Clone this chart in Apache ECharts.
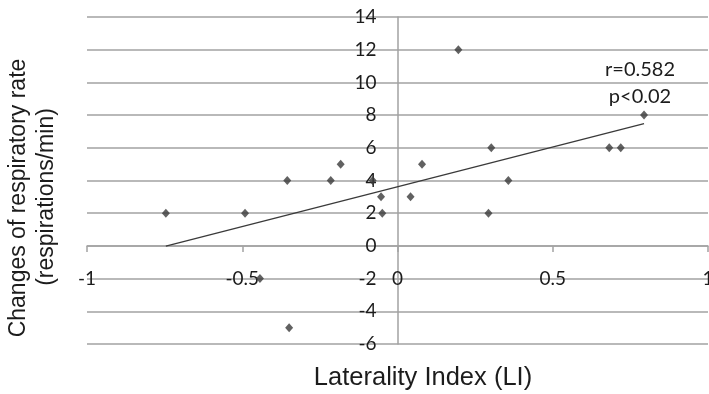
<!DOCTYPE html>
<html>
<head>
<meta charset="utf-8">
<script src="https://cdn.jsdelivr.net/npm/echarts@6/dist/echarts.min.js"></script>
<style>
  html, body { margin: 0; padding: 0; background: #fff; }
  #chart { width: 709px; height: 394px; }
</style>
</head>
<body>
<div id="chart"></div>
<script>
// Laterality index of each subject and the change in respiratory rate
const lateralityIndex = [-0.355, -0.215, -0.183, -0.080, -0.053, 0.196, 0.794, 0.302, 0.682, 0.719,
                          0.079, 0.357, 0.042, -0.746, -0.491, -0.049, -0.443, -0.349, 0.293];
const respChange = [4, 4, 5, 4, 3, 12, 8, 6, 6, 6,
                    5, 4, 3, 2, 2, 2, -2, -5, 2];

const xTicks = { min: -1, max: 1, step: 0.5 };
const yTicks = { min: -6, max: 14, step: 2 };

const statLines = ['r=0.582', 'p<0.02'];

// Least-squares trend line across the observed range of LI
function linearFit(xs, ys) {
  const n = xs.length;
  const mx = xs.reduce((a, b) => a + b, 0) / n;
  const my = ys.reduce((a, b) => a + b, 0) / n;
  let sxy = 0, sxx = 0;
  for (let i = 0; i < n; i++) {
    sxy += (xs[i] - mx) * (ys[i] - my);
    sxx += (xs[i] - mx) * (xs[i] - mx);
  }
  const slope = sxy / sxx;
  return { slope, intercept: my - slope * mx };
}
const fit = linearFit(lateralityIndex, respChange);
const xLo = Math.min(...lateralityIndex);
const xHi = Math.max(...lateralityIndex);
const trend = [[xLo, fit.intercept + fit.slope * xLo], [xHi, fit.intercept + fit.slope * xHi]];

const points = lateralityIndex.map((x, i) => [x, respChange[i]]);

const tickFont = 'Lato, "Open Sans", sans-serif';
const titleFont = '"Liberation Sans", Arial, sans-serif';
const gridGray = '#a2a2a2';
const markColor = '#3a3a3a';
const textColor = '#1c1c1c';

// Plot box in pixels; the axes cross at (0, 0) inside it
const box = { left: 87, right: 1, top: 17, bottom: 50 };
const plotW = 709 - box.left - box.right;
const plotH = 394 - box.top - box.bottom;
const xZeroShift = plotW * (0 - xTicks.min) / (xTicks.max - xTicks.min);
const yZeroShift = plotH * (0 - yTicks.min) / (yTicks.max - yTicks.min);

const chart = echarts.init(document.getElementById('chart'), null, { renderer: 'canvas' });
chart.setOption({
  animation: false,
  backgroundColor: '#ffffff',
  grid: { left: box.left, right: box.right, top: box.top, bottom: box.bottom,
          containLabel: false, outerBoundsMode: 'none' },
  xAxis: {
    type: 'value',
    position: 'bottom',
    offset: -yZeroShift,
    min: xTicks.min, max: xTicks.max, interval: xTicks.step,
    axisLine: { onZero: false, lineStyle: { color: gridGray, width: 1.5 } },
    axisTick: { show: true, length: 6, lineStyle: { color: gridGray, width: 1.5 } },
    splitLine: { show: false },
    axisLabel: {
      margin: 23, fontSize: 19, color: textColor, fontFamily: tickFont,
      showMinLabel: true, showMaxLabel: true,
      formatter: v => String(v)
    }
  },
  yAxis: {
    type: 'value',
    position: 'left',
    offset: -xZeroShift,
    min: yTicks.min, max: yTicks.max, interval: yTicks.step,
    axisLine: { show: true, onZero: false, lineStyle: { color: gridGray, width: 1.5 } },
    axisTick: { show: false },
    splitLine: { show: true, lineStyle: { color: gridGray, width: 1.5 } },
    axisLabel: { margin: 21, fontSize: 19, color: textColor, fontFamily: tickFont }
  },
  series: [
    {
      type: 'line',
      data: trend,
      symbol: 'none',
      lineStyle: { color: markColor, width: 1.3 },
      z: 3
    },
    {
      type: 'scatter',
      data: points,
      symbol: 'diamond',
      symbolSize: [8, 9],
      itemStyle: { color: markColor },
      z: 4
    }
  ],
  graphic: [
    {
      type: 'text', x: 423, y: 378,
      style: { text: 'Laterality Index (LI)', font: '25.5px ' + titleFont, fill: textColor,
               align: 'center', verticalAlign: 'middle' }
    },
    {
      type: 'text', x: 19, y: 198, rotation: Math.PI / 2,
      style: { text: 'Changes of respiratory rate', font: '23px ' + titleFont, fill: textColor,
               align: 'center', verticalAlign: 'middle' }
    },
    {
      type: 'text', x: 46.5, y: 197, rotation: Math.PI / 2,
      style: { text: '(respirations/min)', font: '23px ' + titleFont, fill: textColor,
               align: 'center', verticalAlign: 'middle' }
    },
    {
      type: 'text', x: 640, y: 70,
      style: { text: statLines[0], font: '20px ' + tickFont, fill: textColor,
               align: 'center', verticalAlign: 'middle' }
    },
    {
      type: 'text', x: 640, y: 97,
      style: { text: statLines[1], font: '20px ' + tickFont, fill: textColor,
               align: 'center', verticalAlign: 'middle' }
    }
  ]
});
</script>
</body>
</html>
